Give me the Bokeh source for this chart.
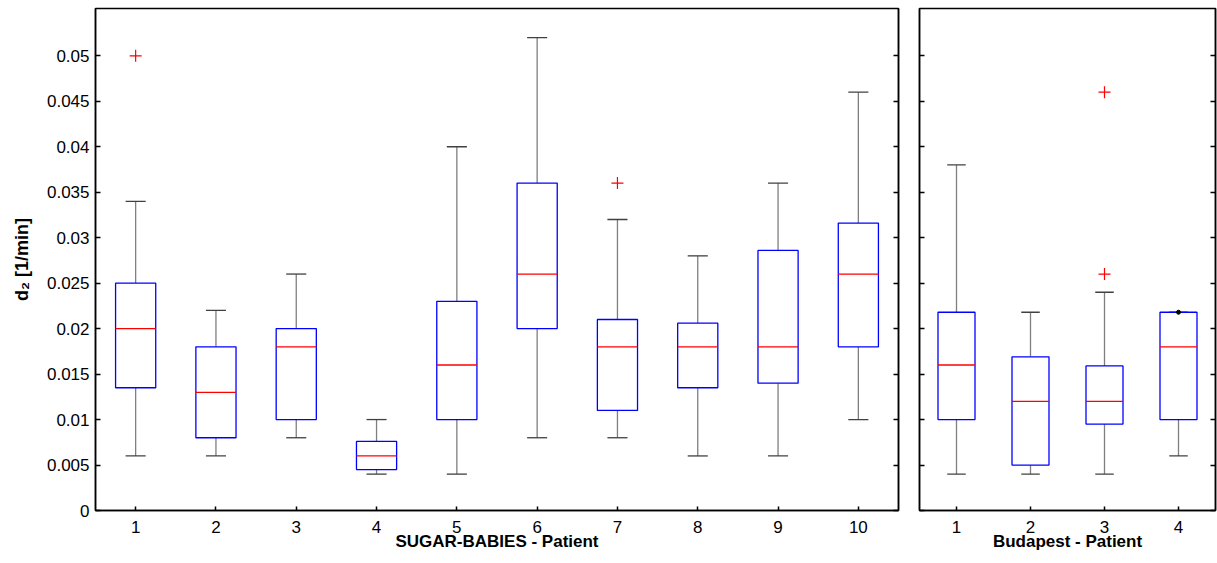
from bokeh.plotting import figure
from bokeh.models import LinearAxis, FixedTicker, ColumnDataSource
from bokeh.layouts import row
from bokeh.embed import file_html
from bokeh.resources import INLINE

# ---------------- data ----------------
y_ticks = [0, 0.005, 0.01, 0.015, 0.02, 0.025, 0.03, 0.035, 0.04, 0.045, 0.05]
y_tick_labels = ["0", "0.005", "0.01", "0.015", "0.02", "0.025", "0.03", "0.035", "0.04", "0.045", "0.05"]

sb_patients = [1, 2, 3, 4, 5, 6, 7, 8, 9, 10]
sb_whislo = [0.006, 0.006, 0.008, 0.004, 0.004, 0.008, 0.008, 0.006, 0.006, 0.010]
sb_q1 = [0.0135, 0.008, 0.010, 0.0045, 0.010, 0.020, 0.011, 0.0135, 0.014, 0.018]
sb_med = [0.020, 0.013, 0.018, 0.006, 0.016, 0.026, 0.018, 0.018, 0.018, 0.026]
sb_q3 = [0.025, 0.018, 0.020, 0.0076, 0.023, 0.036, 0.021, 0.0206, 0.0286, 0.0316]
sb_whishi = [0.034, 0.022, 0.026, 0.010, 0.040, 0.052, 0.032, 0.028, 0.036, 0.046]
sb_out_x = [1, 7]
sb_out_y = [0.050, 0.036]

bp_patients = [1, 2, 3, 4]
bp_whislo = [0.004, 0.004, 0.004, 0.006]
bp_q1 = [0.010, 0.005, 0.0095, 0.010]
bp_med = [0.016, 0.012, 0.012, 0.018]
bp_q3 = [0.0218, 0.0169, 0.0159, 0.0218]
bp_whishi = [0.038, 0.0218, 0.024, 0.0218]
bp_out_x = [3, 3]
bp_out_y = [0.046, 0.026]
bp_dot_x = [4]
bp_dot_y = [0.0218]

FONT = "Liberation Sans"
Y_MAX = 0.0552


def tick_only_axis(ax):
    ax.ticker = FixedTicker(ticks=y_ticks)
    ax.major_label_overrides = {t: "" for t in y_ticks}
    ax.major_label_standoff = 0
    ax.major_tick_in = 5
    ax.major_tick_out = 0
    ax.minor_tick_line_color = None
    ax.axis_line_width = 1.5
    ax.axis_line_color = "black"
    ax.major_tick_line_width = 1.5
    ax.major_tick_line_color = "black"


def style(p, label, show_y_labels):
    p.xgrid.visible = False
    p.ygrid.visible = False
    p.outline_line_color = "black"
    p.outline_line_width = 1.5
    p.background_fill_color = "white"
    p.border_fill_color = "white"

    xa = p.xaxis[0]
    xa.axis_label = label
    xa.axis_label_text_font = FONT
    xa.axis_label_text_font_style = "bold"
    xa.axis_label_text_font_size = "17px"
    xa.axis_label_text_color = "black"
    xa.axis_label_standoff = -4
    xa.major_label_text_font = FONT
    xa.major_label_text_font_size = "17px"
    xa.major_label_text_color = "black"
    xa.major_label_standoff = 10
    xa.major_tick_in = 4
    xa.major_tick_out = 0
    xa.minor_tick_line_color = None
    xa.axis_line_width = 1.5
    xa.axis_line_color = "black"
    xa.major_tick_line_width = 1.5
    xa.major_tick_line_color = "black"

    ya = p.yaxis[0]
    if show_y_labels:
        ya.ticker = FixedTicker(ticks=y_ticks)
        ya.major_tick_in = 5
        ya.major_tick_out = 0
        ya.minor_tick_line_color = None
        ya.axis_line_width = 1.5
        ya.axis_line_color = "black"
        ya.major_tick_line_width = 1.5
        ya.major_tick_line_color = "black"
        ya.major_label_overrides = dict(zip(y_ticks, y_tick_labels))
        ya.major_label_text_font = FONT
        ya.major_label_text_font_size = "17px"
        ya.major_label_text_color = "black"
        ya.major_label_standoff = 6
        ya.axis_label = "d\u2082 [1/min]"
        ya.axis_label_text_font = FONT
        ya.axis_label_text_font_style = "bold"
        ya.axis_label_text_font_size = "18px"
        ya.axis_label_text_color = "black"
        ya.axis_label_standoff = 12
    else:
        tick_only_axis(ya)

    ra = LinearAxis()
    tick_only_axis(ra)
    p.add_layout(ra, "right")


def draw_boxes(p, xs, lo, q1, med, q3, hi, out_x, out_y):
    half_cap = 0.125
    src = ColumnDataSource(dict(
        x=xs, lo=lo, q1=q1, med=med, q3=q3, hi=hi,
        xl=[x - 0.25 for x in xs], xr=[x + 0.25 for x in xs],
        cl=[x - half_cap for x in xs], cr=[x + half_cap for x in xs],
    ))
    # whiskers
    p.segment(x0="x", y0="q3", x1="x", y1="hi", source=src, line_color="#7f7f7f", line_width=1.3)
    p.segment(x0="x", y0="lo", x1="x", y1="q1", source=src, line_color="#7f7f7f", line_width=1.3)
    # caps
    p.segment(x0="cl", y0="hi", x1="cr", y1="hi", source=src, line_color="#404040", line_width=1.3)
    p.segment(x0="cl", y0="lo", x1="cr", y1="lo", source=src, line_color="#404040", line_width=1.3)
    # boxes
    p.quad(left="xl", right="xr", bottom="q1", top="q3", source=src,
           fill_color="white", line_color="#0000ff", line_width=1.3)
    # medians
    p.segment(x0="xl", y0="med", x1="xr", y1="med", source=src, line_color="#ff0000", line_width=1.3)
    # outliers
    p.scatter(out_x, out_y, marker="cross", size=12, line_color="#ff0000", line_width=1.2)


p1 = figure(output_backend="svg", toolbar_location=None,
            frame_width=803, frame_height=502,
            x_range=(0.5, 10.5), y_range=(0, Y_MAX),
            min_border_left=95, min_border_right=10, min_border_top=8, min_border_bottom=53)
style(p1, "SUGAR-BABIES - Patient", True)
p1.xaxis[0].ticker = FixedTicker(ticks=sb_patients)
draw_boxes(p1, sb_patients, sb_whislo, sb_q1, sb_med, sb_q3, sb_whishi, sb_out_x, sb_out_y)

p2 = figure(output_backend="svg", toolbar_location=None,
            frame_width=296, frame_height=502,
            x_range=(0.5, 4.5), y_range=(0, Y_MAX),
            min_border_left=11, min_border_right=2, min_border_top=8, min_border_bottom=53)
style(p2, "Budapest - Patient", False)
p2.xaxis[0].ticker = FixedTicker(ticks=bp_patients)
draw_boxes(p2, bp_patients, bp_whislo, bp_q1, bp_med, bp_q3, bp_whishi, bp_out_x, bp_out_y)
p2.scatter(bp_dot_x, bp_dot_y, marker="circle", size=4, fill_color="black", line_color="black")

layout = row(p1, p2, spacing=0)
with open("out.html", "w") as f:
    f.write(file_html(layout, INLINE))
